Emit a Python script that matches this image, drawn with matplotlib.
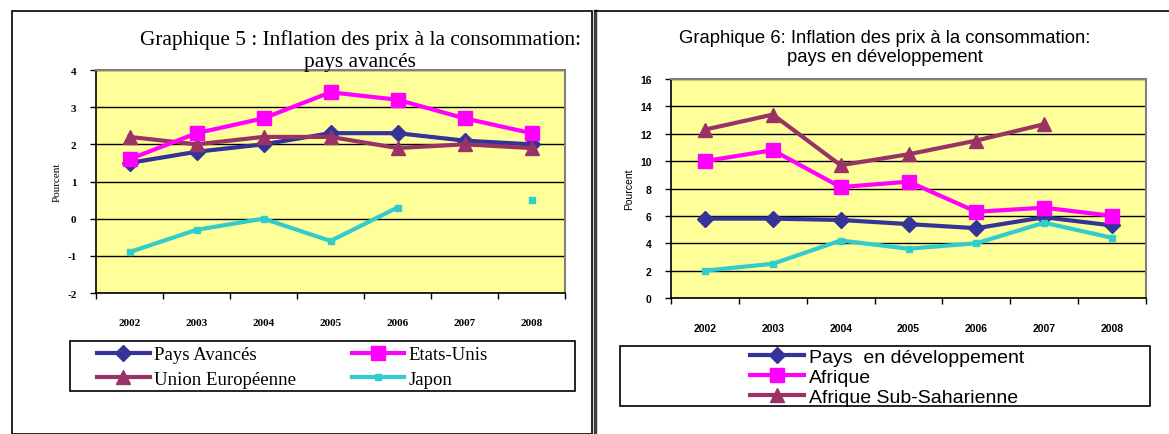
import matplotlib
matplotlib.use("Agg")
import matplotlib.pyplot as plt
from matplotlib.patches import Rectangle
from matplotlib.lines import Line2D
import numpy as np

plt.rcParams["axes.unicode_minus"] = False

W, H = 1169, 435

years = ["2002", "2003", "2004", "2005", "2006", "2007", "2008"]

# graphique 5 : pays avances
pays_avances = [1.5, 1.8, 2.0, 2.3, 2.3, 2.1, 2.0]
etats_unis = [1.6, 2.3, 2.7, 3.4, 3.2, 2.7, 2.3]
union_europeenne = [2.2, 2.0, 2.2, 2.2, 1.9, 2.0, 1.9]
japon = [-0.9, -0.3, 0.0, -0.6, 0.3, np.nan, 0.5]

# graphique 6 : pays en developpement
pays_dev = [5.8, 5.8, 5.7, 5.4, 5.1, 5.9, 5.3]
afrique = [10.0, 10.8, 8.1, 8.5, 6.3, 6.6, 6.0]
afrique_ss = [12.3, 13.4, 9.7, 10.5, 11.5, 12.7, np.nan]
autre = [2.0, 2.5, 4.2, 3.6, 4.0, 5.5, 4.4]

NAVY = "#333399"
MAGENTA = "#FF00FF"
MAROON = "#993366"
CYAN = "#33CCCC"
YELLOW = "#FFFF99"


def px_axes(fig, left, top, right, bottom):
    return fig.add_axes([left / W, 1 - bottom / H, (right - left) / W, (bottom - top) / H])


def style_axes(ax, ylim, ystep, family, labelsize):
    x = np.arange(len(years))
    ax.set_facecolor(YELLOW)
    ax.set_xlim(-0.5, len(years) - 0.5)
    ax.set_ylim(*ylim)
    ax.set_yticks(np.arange(ylim[0], ylim[1] + 0.01, ystep))
    ax.yaxis.grid(True, color="black", linewidth=1)
    ax.set_axisbelow(True)
    ax.set_xticks(np.arange(-0.5, len(years), 1.0))
    ax.set_xticklabels([])
    ax.set_xticks(x, minor=True)
    ax.set_xticklabels(years, minor=True, fontsize=labelsize, fontweight="bold", family=family)
    ax.tick_params(axis="x", which="minor", length=0, pad=18)
    ax.tick_params(axis="x", which="major", length=4, direction="out", width=1)
    ax.tick_params(axis="y", length=4, width=1, labelsize=labelsize, pad=10)
    for lab in ax.get_yticklabels():
        lab.set_family(family)
        lab.set_fontweight("bold")
    for side in ["top", "right"]:
        ax.spines[side].set_color("#808080")
        ax.spines[side].set_linewidth(1.5)
    for side in ["left", "bottom"]:
        ax.spines[side].set_color("black")
        ax.spines[side].set_linewidth(1.2)
    ax.set_ylabel("Pourcent", family=family, fontsize=labelsize, labelpad=4)


fig = plt.figure(figsize=(W / 100, H / 100), dpi=100)

# panel frames
fig.add_artist(Rectangle((12 / W, 0), (592 - 12) / W, 1 - 12 / H, transform=fig.transFigure,
                         fill=False, edgecolor="black", linewidth=1.2))
fig.add_artist(Line2D([595 / W, 595 / W], [0, 1 - 12 / H], transform=fig.transFigure,
                      color="#404040", linewidth=2.5))
fig.add_artist(Line2D([595 / W, 1], [1 - 12 / H, 1 - 12 / H], transform=fig.transFigure,
                      color="black", linewidth=1.2))

x = np.arange(len(years))

# ---- left chart
ax1 = px_axes(fig, 96, 71, 565, 294)
style_axes(ax1, (-2, 4), 1, "Liberation Serif", 8)
h_pa, = ax1.plot(x, pays_avances, color=NAVY, lw=3, marker="D", ms=8, label="Pays Avancés")
h_eu, = ax1.plot(x, union_europeenne, color=MAROON, lw=3, marker="^", ms=10, label="Union Européenne")
h_us, = ax1.plot(x, etats_unis, color=MAGENTA, lw=3, marker="s", ms=10, label="Etats-Unis")
h_jp, = ax1.plot(x, japon, color=CYAN, lw=3, marker="s", ms=5, label="Japon")
fig.text(360 / W, 1 - 51 / H, "Graphique 5 : Inflation des prix à la consommation:\npays avancés",
         ha="center", va="center", family="Liberation Serif", fontsize=15.3, linespacing=1.25)

fig.add_artist(Rectangle((70 / W, 1 - 392 / H), (575 - 70) / W, 50 / H, transform=fig.transFigure,
                         fill=False, edgecolor="black", linewidth=1.2))
fig.legend(handles=[h_pa, h_eu, h_us, h_jp], ncol=2, loc="center left",
           bbox_to_anchor=(97 / W, 1 - 368 / H), frameon=False,
           prop={"family": "Liberation Serif", "size": 13.5}, handlelength=2.8,
           columnspacing=2.95, labelspacing=0.4, handletextpad=0.25, borderpad=0,
           borderaxespad=0)

# ---- right chart
ax2 = px_axes(fig, 671, 80, 1146, 299)
style_axes(ax2, (0, 16), 2, "Liberation Sans", 7.5)
g_pd, = ax2.plot(x, pays_dev, color=NAVY, lw=3, marker="D", ms=8, label="Pays  en développement")
g_af, = ax2.plot(x, afrique, color=MAGENTA, lw=3, marker="s", ms=10, label="Afrique")
g_as, = ax2.plot(x, afrique_ss, color=MAROON, lw=3, marker="^", ms=10, label="Afrique Sub-Saharienne")
ax2.plot(x, autre, color=CYAN, lw=3, marker="s", ms=5)
fig.text(885 / W, 1 - 48 / H, "Graphique 6: Inflation des prix à la consommation:\npays en développement",
         ha="center", va="center", family="Liberation Sans", fontsize=13.3, linespacing=1.15)

fig.add_artist(Rectangle((620 / W, 1 - 407 / H), (1150 - 620) / W, 60 / H, transform=fig.transFigure,
                         fill=False, edgecolor="black", linewidth=1.2))
fig.legend(handles=[g_pd, g_af, g_as], ncol=1, loc="center left",
           bbox_to_anchor=(750 / W, 1 - 378 / H), frameon=False,
           prop={"family": "Liberation Sans", "size": 14}, handlelength=2.8,
           labelspacing=0.12, handletextpad=0.25, borderpad=0, borderaxespad=0)

fig.savefig("out.png", dpi=100)
